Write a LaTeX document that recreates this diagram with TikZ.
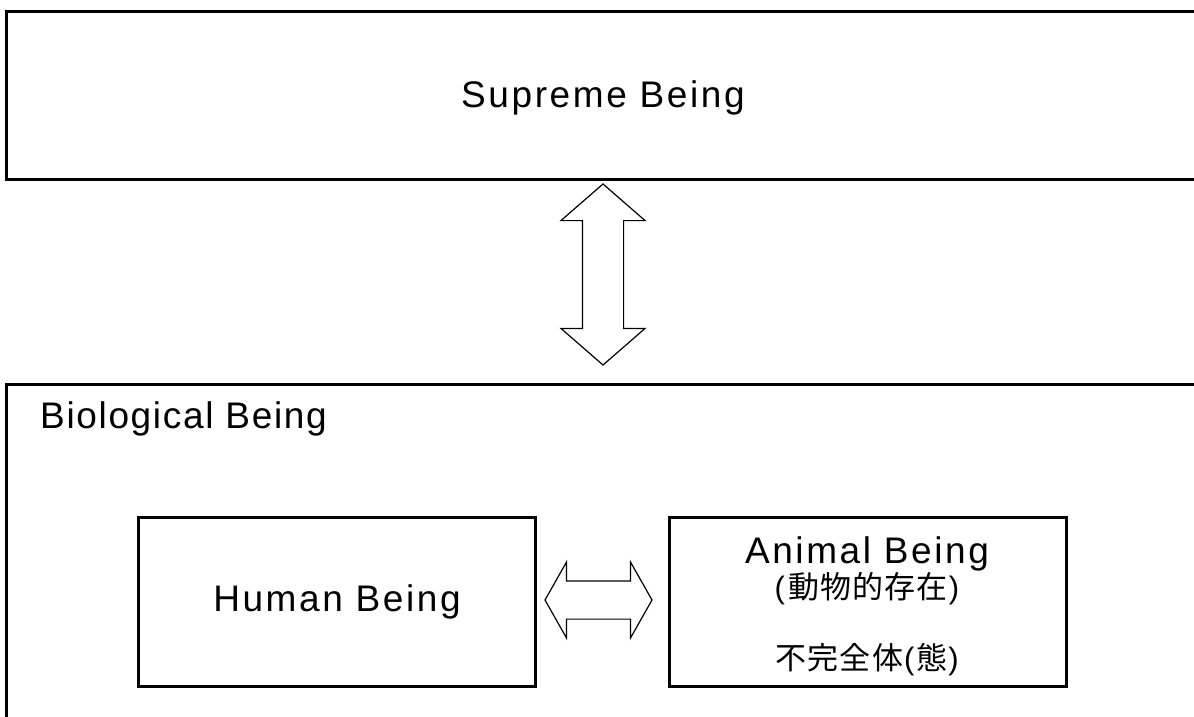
\documentclass[tikz,border=0pt]{standalone}
\usepackage{fontspec}
\setmainfont{Liberation Sans}
\newfontfamily\spaced[LetterSpace=7]{Liberation Sans}
\newfontfamily\lessspaced[LetterSpace=4.5]{Liberation Sans}
\newfontfamily\cjk[LetterSpace=4]{Noto Sans CJK JP}
\usetikzlibrary{shapes.arrows,positioning}

\tikzset{
    frame/.style={draw, line width=3pt, inner sep=0pt, anchor=north west},
    being/.style={draw, line width=3pt, inner sep=0pt, minimum width=397pt, minimum height=169pt},
    title/.style={font=\fontsize{37}{40}\selectfont\spaced, inner sep=0pt},
    kanji/.style={inner sep=0pt, font=\fontsize{31}{34}\selectfont},
    fatarrow/.style={draw, line width=1.2pt, double arrow}
}

\begin{document}
\begin{tikzpicture}[x=1pt,y=-1pt]
        \useasboundingbox (0,0) rectangle (1194,717);

        % outer frames, both run off the page
        \node[frame, minimum width=1300pt, minimum height=168.6pt] (supreme) at (5,9.7) {};
        \node[frame, minimum width=1300pt, minimum height=400pt] (bio) at (5,383) {};

        \node[title, anchor=base] (supremetext) at (603,107) {Supreme Being};
        \node[title, font=\fontsize{37}{40}\selectfont\lessspaced, anchor=base west] (biotext) at (40,428) {Biological Being};

        % the two inner boxes
        \node[being, title] (human) at (337,602) {Human Being};
        \node[being] (animal) at (867.5,602) {};

        \node[title, anchor=base] (animaltext) at (867,563) {Animal Being};
        \node[kanji] (animalja) at (867,589) {(\kern3pt{\cjk 動物的存在}\kern1pt)};
        \node[kanji] (incomplete) at (867,660) {{\cjk 不完全体}\kern1pt(\kern2pt{\cjk 態}\kern1pt)};

        % block arrows between the boxes
        \node[fatarrow, rotate=90, inner sep=20pt, minimum height=181pt, minimum width=83pt,
              double arrow head extend=21.5pt, double arrow tip angle=98] (updown) at (603,274.5) {};
        \node[fatarrow, inner sep=18.5pt, minimum height=107pt, minimum width=75pt,
              double arrow head extend=19pt, double arrow tip angle=121] (leftright) at (598.5,600) {};
    \end{tikzpicture}
\end{document}
